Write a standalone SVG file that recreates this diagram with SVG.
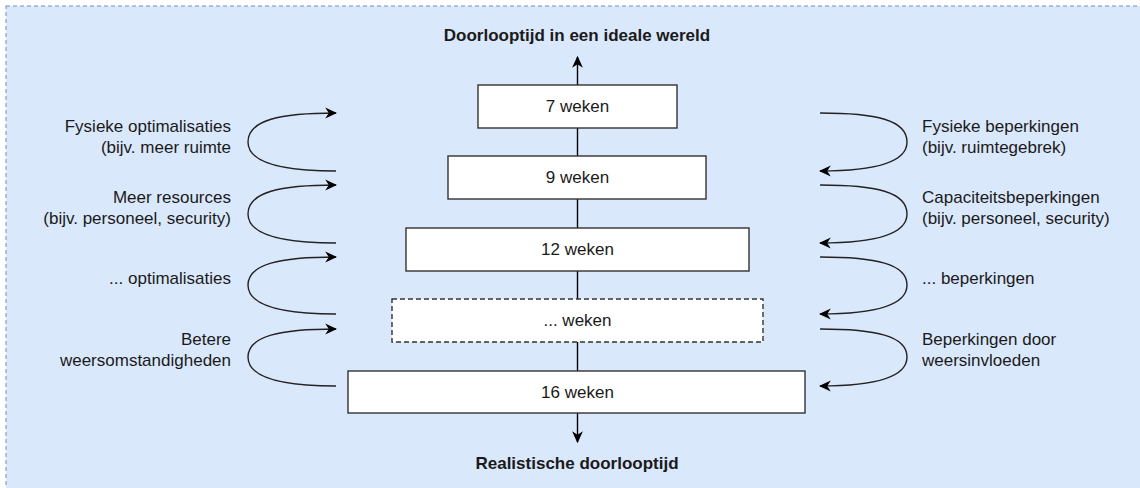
<svg xmlns="http://www.w3.org/2000/svg" width="1140" height="488" viewBox="0 0 1140 488">
<defs>
<marker id="ah" viewBox="0 0 10 10" refX="9" refY="5" markerWidth="12" markerHeight="12" markerUnits="userSpaceOnUse" orient="auto">
<path d="M0,0.5 L10,5 L0,9.5 L3,5 z" fill="#000"/>
</marker>
<style>
.box{fill:#fff;stroke:#333;stroke-width:1.4}
.dash{stroke-dasharray:5 3}
.t{font-family:"Liberation Sans",Arial,sans-serif;font-size:17px;fill:#1a1a1a}
.c{text-anchor:middle}
.r{text-anchor:end}
.b{font-weight:bold}
.ln{fill:none;stroke:#000;stroke-width:1.4}
.cv{fill:none;stroke:#222;stroke-width:1.4;marker-end:url(#ah)}
</style>
</defs>
<rect x="6" y="6" width="1150" height="500" fill="#dae8fc" stroke="#6c8ebf" stroke-dasharray="4 3"/>
<g id="connectors">
<path class="ln" d="M577.5 85 V57" marker-end="url(#ah)"/>
<path class="ln" d="M577.5 128 V156"/>
<path class="ln" d="M577.5 199 V228"/>
<path class="ln" d="M577.5 271 V299"/>
<path class="ln" d="M577.5 342 V371"/>
<path class="ln" d="M577.5 413 V442" marker-end="url(#ah)"/>
<path class="cv" d="M336 171 C285 171 248 164 248 142 C248 120 280 113 336 113"/>
<path class="cv" d="M336 243 C285 243 248 236 248 214 C248 192 280 185 336 185"/>
<path class="cv" d="M336 314 C285 314 248 307 248 285 C248 264 280 257 336 257"/>
<path class="cv" d="M336 386 C285 386 248 379 248 357 C248 336 280 329 336 329"/>
<path class="cv" d="M820 113 C876 113 907 120 907 142 C907 164 871 171 820 171"/>
<path class="cv" d="M820 185 C876 185 907 192 907 214 C907 236 871 243 820 243"/>
<path class="cv" d="M820 257 C876 257 907 264 907 285 C907 307 871 314 820 314"/>
<path class="cv" d="M820 329 C876 329 907 336 907 357 C907 379 871 386 820 386"/>
</g>
<g id="title-top"><text class="t c b" x="577" y="41">Doorlooptijd in een ideale wereld</text></g>
<g id="title-bottom"><text class="t c b" x="577" y="469">Realistische doorlooptijd</text></g>
<g id="n7"><rect class="box" x="478" y="85" width="199" height="43"/><text class="t c" x="577.5" y="112">7 weken</text></g>
<g id="n9"><rect class="box" x="448" y="156" width="258" height="43"/><text class="t c" x="577.5" y="183">9 weken</text></g>
<g id="n12"><rect class="box" x="406" y="228" width="343" height="43"/><text class="t c" x="577.5" y="255">12 weken</text></g>
<g id="ndots"><rect class="box dash" x="392" y="299" width="371" height="43"/><text class="t c" x="577.5" y="326">... weken</text></g>
<g id="n16"><rect class="box" x="348" y="371" width="457" height="42"/><text class="t c" x="577.5" y="398">16 weken</text></g>
<g id="l1"><text class="t r" x="231" y="132">Fysieke optimalisaties</text><text class="t r" x="231" y="153">(bijv. meer ruimte</text></g>
<g id="l2"><text class="t r" x="231" y="203">Meer resources</text><text class="t r" x="231" y="224">(bijv. personeel, security)</text></g>
<g id="l3"><text class="t r" x="231" y="284">... optimalisaties</text></g>
<g id="l4"><text class="t r" x="231" y="345">Betere</text><text class="t r" x="231" y="366">weersomstandigheden</text></g>
<g id="r1"><text class="t" x="922" y="132">Fysieke beperkingen</text><text class="t" x="922" y="153">(bijv. ruimtegebrek)</text></g>
<g id="r2"><text class="t" x="922" y="203">Capaciteitsbeperkingen</text><text class="t" x="922" y="224">(bijv. personeel, security)</text></g>
<g id="r3"><text class="t" x="922" y="284">... beperkingen</text></g>
<g id="r4"><text class="t" x="922" y="345">Beperkingen door</text><text class="t" x="922" y="366">weersinvloeden</text></g>
</svg>
